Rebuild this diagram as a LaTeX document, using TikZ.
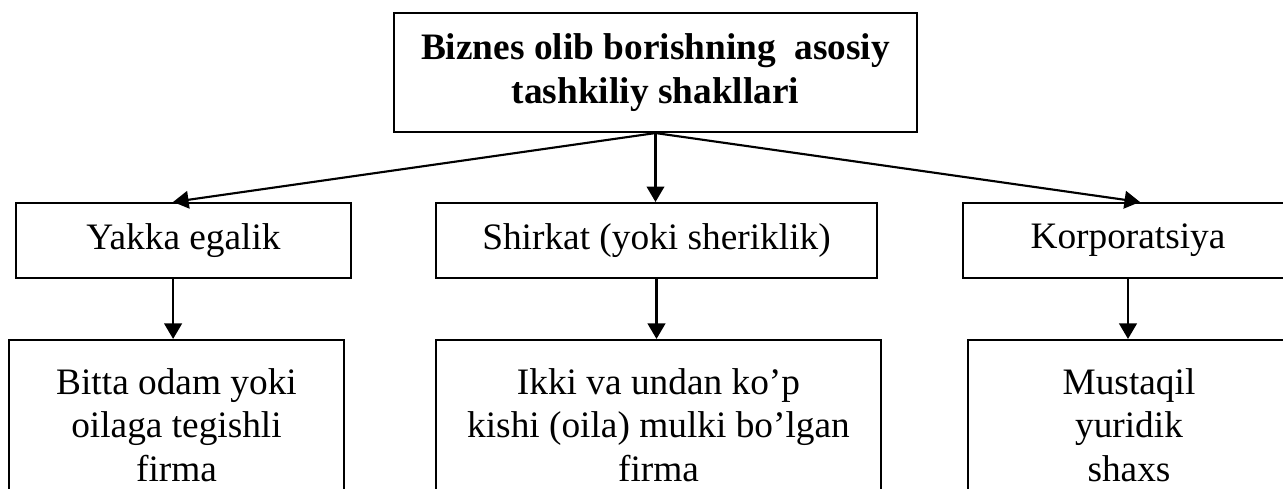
\documentclass[tikz,border=0pt]{standalone}
\usepackage{fontspec}
\setmainfont{Liberation Serif}
\usetikzlibrary{arrows.meta}

\begin{document}
\begin{tikzpicture}[x=0.375pt,y=-0.375pt,>={Triangle[length=5.8pt,width=6.6pt]},
  box/.style={draw,line width=0.8pt,align=center,inner sep=2pt,font=\fontsize{14}{16.3}\selectfont},
  link/.style={->,line width=0.8pt}]
  \useasboundingbox (0,0) rectangle (1283,488);
  \clip (0,0) rectangle (1283,488);
  \node[box,minimum width=196pt,minimum height=44.6pt,font=\fontsize{14}{16.3}\selectfont\bfseries] (top) at (655.5,72.5) {Biznes olib borishning~ asosiy\\tashkiliy shakllari};
  \node[box,minimum width=125.6pt,minimum height=28.1pt] (yakka) at (183.5,240.5) {Yakka egalik};
  \node[box,minimum width=165.4pt,minimum height=28.1pt] (shirkat) at (656.5,240.5) {Shirkat (yoki sheriklik)};
  \node[box,minimum width=123.8pt,minimum height=28.1pt] (korp) at (1128,240.5) {Korporatsiya};
  \node[box,minimum width=125.6pt,minimum height=63.75pt] (bitta) at (176.5,425) {Bitta odam yoki\\oilaga tegishli\\firma};
  \node[box,minimum width=166.9pt,minimum height=63.75pt] (ikki) at (658.5,425) {Ikki va undan ko’p\\kishi (oila) mulki bo’lgan\\firma};
  \node[box,minimum width=120.8pt,minimum height=63.75pt] (mustaqil) at (1129,425) {Mustaqil\\yuridik\\shaxs};
  \draw[link] (top.south) -- ([xshift=-3.9pt]yakka.north);
  \draw[link] (top.south) -- (top.south |- shirkat.north);
  \draw[link] (top.south) -- ([xshift=4.5pt]korp.north);
  \draw[link] ([xshift=-3.9pt]yakka.south) -- ([xshift=-3.9pt]yakka.south |- bitta.north);
  \draw[link] (shirkat.south) -- (shirkat.south |- ikki.north);
  \draw[link] (korp.south) -- (korp.south |- mustaqil.north);
\end{tikzpicture}
\end{document}
